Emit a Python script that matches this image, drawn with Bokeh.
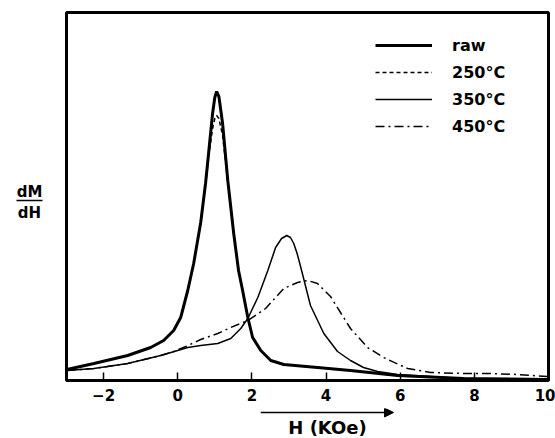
from bokeh.plotting import figure
from bokeh.layouts import row, column
from bokeh.models import Range1d, Arrow, NormalHead, Legend, LegendItem, FixedTicker
from bokeh.core.properties import value
from bokeh.embed import file_html
from bokeh.resources import INLINE

FONT = "DejaVu Sans"

# H (KOe) and dM/dH (arbitrary units)
raw_x = [-2.99, -2.26, -1.35, -0.73, -0.38, -0.11, 0.08, 0.27, 0.43, 0.62, 0.75, 0.84, 0.94, 1.0, 1.05, 1.11,
         1.21, 1.35, 1.51, 1.64, 1.75, 1.89, 2.02, 2.24, 2.51, 2.86, 3.77, 4.66, 5.93, 7.71, 9.97]
raw_y = [11, 17, 25, 33, 40, 50, 63, 90, 117, 158, 197, 230, 267, 283, 289, 284,
         257, 200, 147, 110, 90, 63, 43, 30, 20, 16, 13, 10, 5, 2, 1]

c250_x = [-2.99, -2.26, -1.35, -0.73, -0.38, -0.11, 0.08, 0.27, 0.43, 0.62, 0.75, 0.84, 0.94, 1.0, 1.05, 1.11,
          1.21, 1.35, 1.51, 1.64, 1.75, 1.89, 2.02, 2.24, 2.51, 2.86, 3.77, 4.66, 5.93, 7.71, 9.97]
c250_y = [11, 17, 25, 33, 40, 50, 63, 90, 117, 158, 195, 225, 252, 262, 265, 262,
          245, 198, 147, 110, 90, 63, 43, 30, 20, 16, 13, 10, 5, 2, 1]

c350_x = [-2.99, -2.26, -1.35, -0.46, 0.0, 0.27, 0.62, 1.08, 1.43, 1.70, 1.89, 2.16, 2.43, 2.64, 2.80, 2.94,
          3.04, 3.13, 3.22, 3.32, 3.58, 3.94, 4.31, 4.66, 5.01, 5.39, 5.93, 7.71, 9.97]
c350_y = [10, 12, 17, 25, 30, 33, 35, 37, 42, 52, 62, 83, 110, 133, 142, 145,
          143, 137, 127, 113, 75, 47, 29, 20, 13, 9, 6, 2, 1]

c450_x = [-2.99, -2.26, -1.35, -0.46, -0.11, 0.22, 0.62, 1.08, 1.43, 1.89, 2.37, 2.86, 3.23, 3.50, 3.77,
          4.12, 4.39, 4.66, 5.12, 5.55, 6.20, 6.82, 7.71, 8.44, 9.16, 9.97]
c450_y = [10, 12, 17, 25, 29, 34, 41, 47, 53, 60, 72, 92, 98, 100, 97,
          84, 68, 52, 33, 23, 12, 8, 7, 7, 6, 4]

x_ticks = [-2, 0, 2, 4, 6, 8, 10]
x_tick_labels = {-2: "\u22122", 0: "0", 2: "2", 4: "4", 6: "6", 8: "8", 10: "10"}
legend_labels = ["raw", "250\u00b0C", "350\u00b0C", "450\u00b0C"]
x_title = "H (KOe)"
y_title_top = "dM"
y_title_bottom = "dH"


def bare(fig):
    fig.background_fill_color = "white"
    fig.border_fill_color = "white"
    fig.outline_line_color = None
    fig.xgrid.visible = False
    fig.ygrid.visible = False
    fig.xaxis.visible = False
    fig.yaxis.visible = False


# ---- main plot ----
p = figure(width=490, height=408, output_backend="svg", toolbar_location=None,
           x_range=Range1d(-3, 10), y_range=Range1d(0, 368),
           min_border_left=1, min_border_right=7, min_border_top=12, min_border_bottom=28)
p.background_fill_color = "white"
p.border_fill_color = "white"
p.outline_line_color = "black"
p.outline_line_width = 3
p.xgrid.visible = False
p.ygrid.visible = False
p.yaxis.visible = False

ax = p.xaxis[0]
ax.ticker = FixedTicker(ticks=x_ticks)
ax.major_label_overrides = x_tick_labels
ax.axis_line_color = None
ax.major_tick_in = 8
ax.major_tick_out = 0
ax.major_tick_line_width = 1.5
ax.minor_tick_line_color = None
ax.major_label_standoff = 8
ax.major_label_text_font = FONT
ax.major_label_text_font_style = "bold"
ax.major_label_text_font_size = "15px"
ax.major_label_text_color = "black"

r_raw = p.line(raw_x, raw_y, line_color="black", line_width=3)
r250 = p.line(c250_x, c250_y, line_color="black", line_width=1.5, line_dash="4 3")
r350 = p.line(c350_x, c350_y, line_color="black", line_width=1.5)
r450 = p.line(c450_x, c450_y, line_color="black", line_width=1.5, line_dash="9 4 2 4")

legend = Legend(items=[LegendItem(label=l, renderers=[r]) for l, r in zip(legend_labels, [r_raw, r250, r350, r450])],
                location=(309, 244), glyph_width=57, glyph_height=20, label_height=20, spacing=7,
                label_standoff=20, padding=0, margin=0, border_line_color=None,
                background_fill_alpha=0, label_text_font=FONT, label_text_font_style="bold",
                label_text_font_size="16px", label_text_color="black")
p.add_layout(legend, "center")

# ---- strip below: arrow + axis title ----
pb = figure(width=490, height=30, output_backend="svg", toolbar_location=None,
            x_range=p.x_range, y_range=Range1d(0, 30),
            min_border_left=1, min_border_right=7, min_border_top=0, min_border_bottom=0)
bare(pb)
pb.add_layout(Arrow(end=NormalHead(size=9, line_color="black", fill_color="black", line_width=1),
                    x_start=2.24, y_start=26, x_end=5.82, y_end=26, line_width=1.5, line_color="black"))
pb.text(x=[4.04], y=[11], text=[x_title], text_align="center", text_baseline="middle",
        text_font=value(FONT), text_font_style="bold", text_font_size="18px", text_color="black")

# ---- strip at left: dM/dH fraction ----
pl = figure(width=65, height=438, output_backend="svg", toolbar_location=None,
            x_range=Range1d(0, 65), y_range=Range1d(0, 438),
            min_border_left=0, min_border_right=0, min_border_top=0, min_border_bottom=0)
bare(pl)
pl.text(x=[29, 29], y=[247, 226], text=[y_title_top, y_title_bottom], text_align="center",
        text_baseline="middle", text_font=value(FONT), text_font_style="bold",
        text_font_size="15px", text_color="black")
pl.segment(x0=[16], y0=[238], x1=[42], y1=[238], line_color="black", line_width=1.5)

layout = row(pl, column(p, pb, spacing=0), spacing=0)
open("out.html", "w").write(file_html(layout, INLINE))
